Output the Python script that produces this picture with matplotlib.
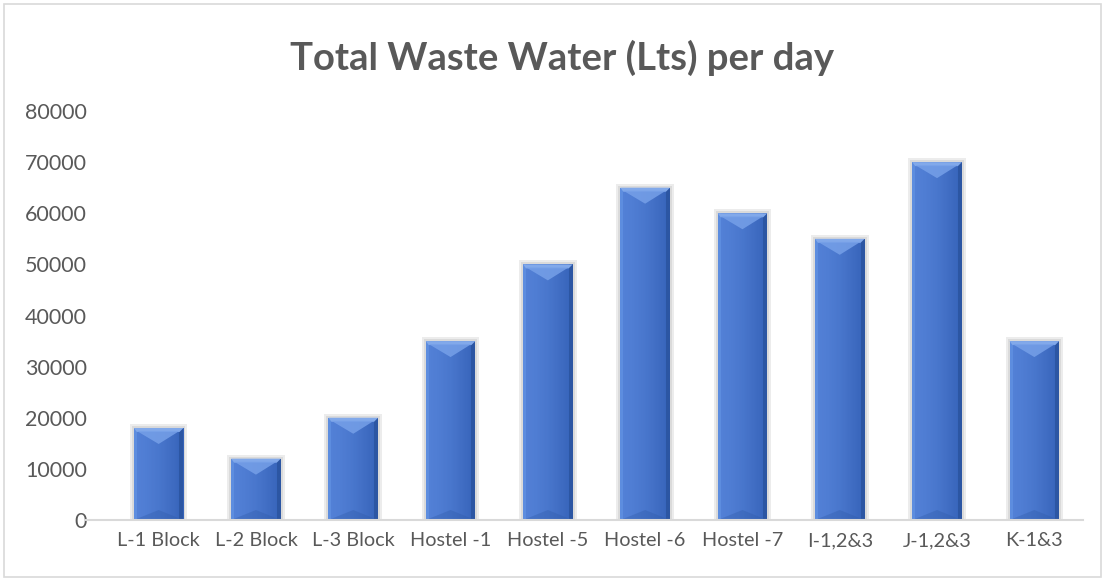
import matplotlib
matplotlib.use("Agg")
import matplotlib.pyplot as plt
from matplotlib.patches import Polygon, Rectangle
import numpy as np

categories = ["L-1 Block", "L-2 Block", "L-3 Block", "Hostel -1", "Hostel -5",
              "Hostel -6", "Hostel -7", "I-1,2&3", "J-1,2&3", "K-1&3"]
values = [18000, 12000, 20000, 35000, 50000, 65000, 60000, 55000, 70000, 35000]
yticks = [0, 10000, 20000, 30000, 40000, 50000, 60000, 70000, 80000]

plt.rcParams['font.family'] = ['Lato', 'DejaVu Sans']
TXT = "#595959"

fig = plt.figure(figsize=(11.05, 5.79), dpi=100)
fig.patch.set_facecolor("white")
fig.add_artist(Rectangle((0.0035, 0.003), 0.993, 0.99, transform=fig.transFigure,
                         fill=False, edgecolor="#d9d9d9", lw=1.2))

ax = fig.add_axes([110/1105, 59/579, (1083-110)/1105, (520-111)/579])
ax.set_ylim(0, 80000)
ax.set_xlim(-0.5, len(categories) - 0.5)

x = np.arange(len(categories))
bars = ax.bar(x, values, width=0.51, color="#4472c4", zorder=3)

fig.canvas.draw()
inv = ax.transData.inverted()
p0 = inv.transform((0, 0)); p1 = inv.transform((1, 1))
dx_px = p1[0] - p0[0]
dy_px = p1[1] - p0[1]
for b in bars:
    x0 = b.get_x(); w = b.get_width(); h = b.get_height()
    x1 = x0 + w
    # soft shadow
    ax.add_patch(Rectangle((x0 - 4*dx_px, 0), w + 8*dx_px, h + 4*dy_px,
                           facecolor="#ececec", edgecolor="none", zorder=2))
    ax.add_patch(Rectangle((x0 - 2*dx_px, 0), w + 4*dx_px, h + 2*dy_px,
                           facecolor="#dadada", edgecolor="none", zorder=2.1))
    # body gradient columns
    n = 40
    c1 = np.array([0x52, 0x80, 0xd6]) / 255
    c2 = np.array([0x35, 0x62, 0xb8]) / 255
    for i in range(n):
        t = (i / (n - 1)) ** 1.6
        c = c1 * (1 - t) + c2 * t
        ax.add_patch(Rectangle((x0 + w * i / n, 0), w / n * 1.05, h,
                               facecolor=c, edgecolor="none", zorder=3.1))
    # left light edge, right dark edge
    ax.add_patch(Rectangle((x0, 0), 3*dx_px, h, facecolor="#5d8ddf",
                           edgecolor="none", zorder=3.2))
    ax.add_patch(Rectangle((x1 - 4*dx_px, 0), 4*dx_px, h, facecolor="#2c56a3",
                           edgecolor="none", zorder=3.2))
    # bottom darker triangle hint
    ax.add_patch(Polygon([(x0, 0), (x1, 0), (x0 + w/2, 10*dy_px)],
                         closed=True, facecolor="#2f5aa8", edgecolor="none", alpha=0.35, zorder=3.25))
    # top bevel: light band + triangle
    ax.add_patch(Polygon([(x0, h), (x1, h), (x1 - 4*dx_px, h - 4*dy_px), (x0 + 3*dx_px, h - 4*dy_px)],
                         closed=True, facecolor="#82a9ea", edgecolor="none", zorder=3.3))
    ax.add_patch(Polygon([(x0 + 3*dx_px, h - 3*dy_px), (x1 - 4*dx_px, h - 3*dy_px),
                          (x0 + w/2, h - 16*dy_px)],
                         closed=True, facecolor="#76a0e8", edgecolor="none", alpha=0.85, zorder=3.3))

ax.set_xticks(x)
ax.set_xticklabels(categories, fontsize=14.3, color=TXT)
ax.set_yticks(yticks)
ax.set_yticklabels([str(v) for v in yticks], fontsize=15.5, color=TXT)
ax.tick_params(axis="both", length=0, pad=9)
ax.tick_params(axis="y", pad=16.5)
for s in ["top", "right", "left"]:
    ax.spines[s].set_visible(False)
ax.spines["bottom"].set_color("#d9d9d9")
ax.spines["bottom"].set_linewidth(1.5)
ax.spines["bottom"].set_bounds(-0.75, len(categories) - 0.5)
ax.spines["bottom"].set_zorder(5)

fig.text(0.5 + 10/1105, 1 - 58/579, "Total Waste Water (Lts) per day", ha="center", va="center",
         fontsize=27.5, fontweight="bold", color=TXT)

fig.savefig("out.png", dpi=100, facecolor="white")
